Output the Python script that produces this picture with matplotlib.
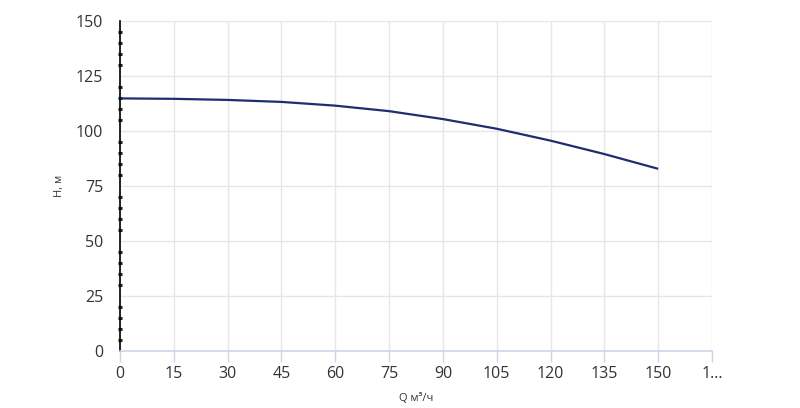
import matplotlib
matplotlib.use("Agg")
import matplotlib.pyplot as plt
from matplotlib.ticker import MultipleLocator

plt.rcParams['font.family'] = ['Open Sans', 'DejaVu Sans']

# pump curve
q = [0, 15, 30, 45, 60, 75, 90, 105, 120, 135, 150]
h = [114.8, 114.6, 114.1, 113.2, 111.5, 109.0, 105.4, 101.0, 95.6, 89.5, 82.8]

x_ticks = [0, 15, 30, 45, 60, 75, 90, 105, 120, 135, 150, 165]
x_labels = ['0', '15', '30', '45', '60', '75', '90', '105', '120', '135', '150', '1...']
y_ticks = [0, 25, 50, 75, 100, 125, 150]

fig = plt.figure(figsize=(8, 4.08), dpi=100)
ax = fig.add_axes([0.15, 0.1397, 0.74, 0.809])

ax.plot(q, h, color='#1f2e6e', lw=1.6, solid_capstyle='butt')

ax.set_xlim(0, 165)
ax.set_ylim(0, 150)
ax.set_xticks(x_ticks)
ax.set_xticklabels(x_labels)
ax.set_yticks(y_ticks)
ax.yaxis.set_minor_locator(MultipleLocator(5))

ax.grid(True, color='#e6e6e6', lw=1)
ax.set_axisbelow(True)

for s in ['top', 'right']:
    ax.spines[s].set_visible(False)
ax.spines['bottom'].set_color('#ccd6eb')
ax.spines['bottom'].set_linewidth(1.2)
ax.spines['left'].set_color('black')
ax.spines['left'].set_linewidth(1.2)

ax.tick_params(axis='x', length=8, width=1, color='#ccd6eb', labelsize=11.5,
               labelcolor='#333333', pad=3)
ax.tick_params(axis='y', which='major', length=0, labelsize=11.5,
               labelcolor='#333333', pad=12)
ax.tick_params(axis='y', which='minor', length=3, width=2.2, color='#222222',
               direction='inout')

ax.set_xlabel('Q м³/ч', fontsize=8, color='#333333', labelpad=8)
ax.set_ylabel('H, м', fontsize=8, color='#333333', labelpad=8)

fig.savefig('out.png', dpi=100)
